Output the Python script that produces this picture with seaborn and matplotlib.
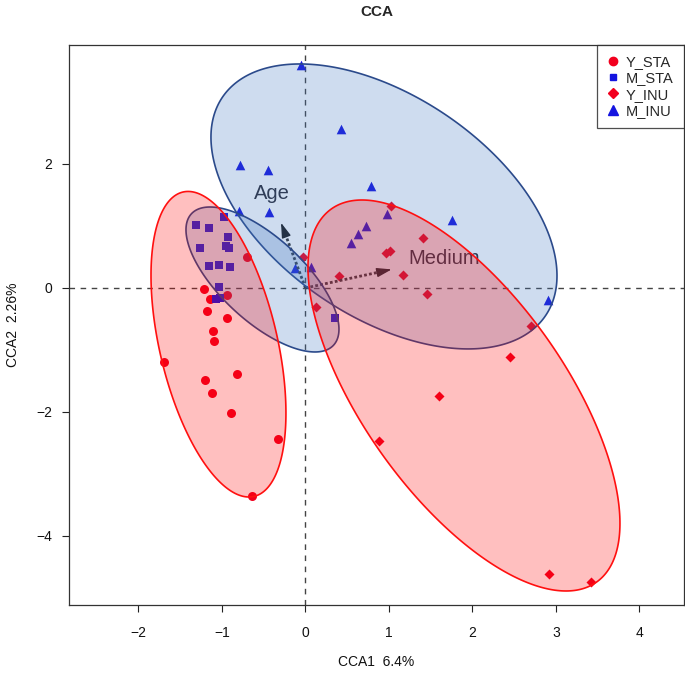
import numpy as np
import pandas as pd
import matplotlib
matplotlib.use("Agg")
import matplotlib.pyplot as plt
import seaborn as sns
from matplotlib.lines import Line2D

# ---------------- data ----------------
groups = ["Y_STA", "M_STA", "Y_INU", "M_INU"]

y_sta_x = [-0.70, -1.22, -1.14, -0.94, -1.18, -0.94, -1.11, -1.10, -1.70, -0.82, -1.20, -1.12, -0.89, -0.33, -0.64]
y_sta_y = [0.50, -0.02, -0.18, -0.11, -0.37, -0.48, -0.69, -0.85, -1.19, -1.38, -1.48, -1.70, -2.01, -2.44, -3.35]

m_sta_x = [-1.31, -0.98, -1.15, -0.93, -0.95, -0.91, -1.26, -1.16, -1.03, -0.90, -1.04, -1.07, -1.02, 0.35]
m_sta_y = [1.02, 1.14, 0.96, 0.82, 0.68, 0.65, 0.64, 0.35, 0.37, 0.34, 0.02, -0.17, -0.16, -0.48]

y_inu_x = [1.02, 1.41, 0.96, 1.01, 1.17, 0.40, 1.46, -0.03, 0.12, 2.70, 2.45, 1.60, 0.88, 2.92, 3.42]
y_inu_y = [1.32, 0.80, 0.56, 0.60, 0.21, 0.19, -0.09, 0.50, -0.30, -0.62, -1.11, -1.75, -2.47, -4.62, -4.75]

m_inu_x = [-0.05, 0.43, -0.79, -0.45, 0.78, -0.80, -0.44, 0.98, 1.75, 0.72, 0.63, 0.55, -0.12, 0.07, 2.91]
m_inu_y = [3.60, 2.56, 1.98, 1.91, 1.65, 1.24, 1.22, 1.20, 1.09, 1.00, 0.87, 0.72, 0.32, 0.34, -0.20]

# ellipses: centre x, centre y, half-width in x, half-height in y, correlation
ell_group = ["M_INU", "M_STA", "Y_STA", "Y_INU"]
ell_cx = [0.94, -0.515, -1.042, 1.898]
ell_cy = [1.315, 0.137, -0.907, -1.734]
ell_hx = [2.072, 0.916, 0.808, 1.868]
ell_hy = [2.298, 1.169, 2.464, 3.153]
ell_rho = [-0.486, -0.686, -0.45, -0.654]

# environmental vectors
env_names = ["Age", "Medium"]
env_x = [-0.293, 1.032]
env_y = [1.053, 0.300]
env_label_x = [-0.40, 1.66]
env_label_y = [1.53, 0.48]

# ---------------- style ----------------
sns.set_style("ticks")
plt.rcParams["font.family"] = ["Liberation Sans", "DejaVu Sans"]

red = "#F2001E"
blue = "#1414E0"
palette = {"Y_STA": red, "M_STA": blue, "Y_INU": red, "M_INU": blue}
markers = {"Y_STA": "o", "M_STA": "s", "Y_INU": "D", "M_INU": "^"}
sizes_map = {"Y_STA": 42, "M_STA": 34, "Y_INU": 26, "M_INU": 48}

df = pd.DataFrame({
    "x": y_sta_x + m_sta_x + y_inu_x + m_inu_x,
    "y": y_sta_y + m_sta_y + y_inu_y + m_inu_y,
    "group": (["Y_STA"] * len(y_sta_x) + ["M_STA"] * len(m_sta_x)
              + ["Y_INU"] * len(y_inu_x) + ["M_INU"] * len(m_inu_x)),
})

fig = plt.figure(figsize=(6.85, 6.74), dpi=100)
ax = fig.add_axes([69 / 685, 1 - 605 / 674, (684 - 69) / 685, (605 - 45) / 674])

for g in groups:
    sub = df[df["group"] == g]
    sns.scatterplot(data=sub, x="x", y="y", color=palette[g], marker=markers[g],
                    s=sizes_map[g], linewidth=0, ax=ax, legend=False, zorder=2)

ax.set_xlim(-2.832, 4.533)
ax.set_ylim(-5.113, 3.919)

ax.axhline(0, color="#444444", lw=1, ls=(0, (4, 4)), zorder=1)
ax.axvline(0, color="#444444", lw=1, ls=(0, (4, 4)), zorder=1)

# arrows
for name, vx, vy, lx, ly in zip(env_names, env_x, env_y, env_label_x, env_label_y):
    ax.plot([0, vx * 0.93], [0, vy * 0.93], color="#333333", lw=2.0,
            ls=(0, (1, 0.8)), zorder=2, solid_capstyle="butt")
    ax.annotate("", xy=(vx, vy), xytext=(vx * 0.85, vy * 0.85),
                arrowprops=dict(arrowstyle="-|>,head_length=0.9,head_width=0.28",
                                color="#1a1a1a", lw=1.0, shrinkA=0, shrinkB=0),
                zorder=2)
    ax.text(lx, ly, name, fontsize=14.5, color="#2a2a35", ha="center", va="center", zorder=2)

# ellipses
t = np.linspace(0, 2 * np.pi, 400)
for g, cx, cy, hx, hy, rho in zip(ell_group, ell_cx, ell_cy, ell_hx, ell_hy, ell_rho):
    ex = cx + hx * np.cos(t)
    ey = cy + hy * (rho * np.cos(t) + np.sqrt(1 - rho ** 2) * np.sin(t))
    if g.startswith("M"):
        ax.fill(ex, ey, facecolor=(63 / 255, 119 / 255, 195 / 255, 0.25),
                edgecolor="#2B4A8B", lw=1.2, zorder=3)
    else:
        ax.fill(ex, ey, facecolor=(1, 0, 0, 0.25), edgecolor="#FF1010", lw=1.2, zorder=4)

ax.set_xticks([-2, -1, 0, 1, 2, 3, 4])
ax.set_yticks([-4, -2, 0, 2])
ax.set_xticklabels(["\u22122", "\u22121", "0", "1", "2", "3", "4"])
ax.set_yticklabels(["\u22124", "\u22122", "0", "2"])
ax.tick_params(axis="both", direction="out", length=5, width=0.8, colors="#222222",
               labelsize=10, labelcolor="#111111")
ax.tick_params(axis="x", pad=10)
ax.tick_params(axis="y", pad=7)
for sp in ax.spines.values():
    sp.set_visible(True)
    sp.set_color("#333333")
    sp.set_linewidth(0.9)

ax.set_xlabel("CCA1  6.4%", fontsize=10, labelpad=11, color="#111111")
ax.set_ylabel("CCA2  2.26%", fontsize=10, labelpad=12, color="#111111")
fig.text(0.5 * (69 + 684) / 685, 1 - 12 / 674, "CCA", fontsize=11, fontweight="bold",
         ha="center", va="center")

handles = [Line2D([], [], ls="none", marker=markers[g], color=palette[g],
                  markersize={"Y_STA": 6, "M_STA": 5, "Y_INU": 5, "M_INU": 6.5}[g], label=g)
           for g in groups]
leg = ax.legend(handles=handles, loc="upper right", bbox_to_anchor=(1, 1),
                borderaxespad=0, frameon=True, fancybox=False, fontsize=10.5,
                handlelength=0.8, handletextpad=0.5, labelspacing=0.15,
                borderpad=0.7)
leg.get_frame().set_edgecolor("#222222")
leg.get_frame().set_linewidth(0.9)
leg.set_zorder(10)

fig.savefig("out.png", dpi=100)
